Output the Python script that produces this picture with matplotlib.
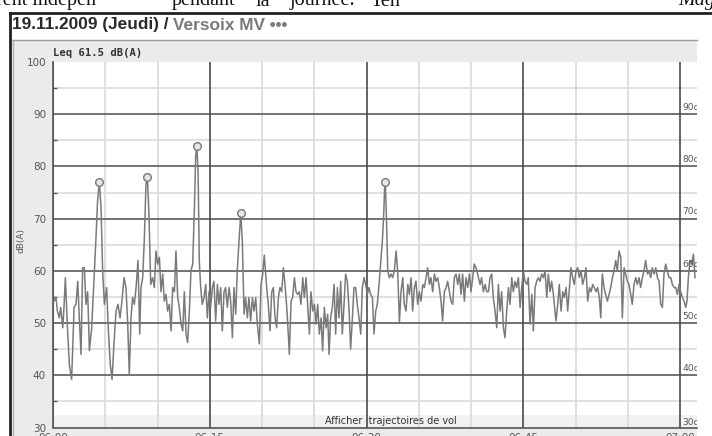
import matplotlib
matplotlib.use("Agg")
import matplotlib.pyplot as plt
from matplotlib.lines import Line2D
from matplotlib.patches import Rectangle

# ---------------- data ----------------
title_date = "19.11.2009 (Jeudi) / "
title_site = "Versoix MV \u2022\u2022\u2022"
leq_text = "Leq 61.5 dB(A)"
y_label = "dB(A)"
x_tick_seconds = [0, 900, 1800, 2700, 3600]
x_tick_labels = ["06:00", "06:15", "06:30", "06:45", "07:00"]
y_ticks = [30, 40, 50, 60, 70, 80, 90, 100]
right_labels = [30, 40, 50, 60, 70, 80, 90]
footer_text = "Afficher  trajectoires de vol"

# seconds after 06:00
t_part1 = [6, 17, 25, 36, 44, 56, 63, 71, 82, 94, 107, 121, 132, 142, 151, 161, 170, 180, 189, 199,
           209, 222, 232, 245, 256, 266, 276, 285, 295, 308, 318, 329, 339, 350, 362, 373, 385, 394, 408, 419,
           429, 438, 448, 457, 467, 477, 488, 498, 505, 515, 524, 534, 542, 551, 561, 572, 582, 591, 601, 611,
           620, 630, 639, 649, 658, 668, 678, 687, 697, 706, 716, 725, 735, 745, 754, 764, 773, 783, 792, 802,
           812, 819, 825, 833, 840, 848, 857, 867, 877, 886, 896, 905, 915, 924, 934, 944, 953, 963, 972, 982,
           991, 1001, 1011, 1020, 1030, 1039, 1049, 1058, 1068, 1078, 1087, 1097, 1106, 1116, 1125, 1135, 1145,
           1154, 1164, 1173, 1185, 1194, 1204, 1213]
db_part1 = [54.2, 54.9, 52.3, 51.0, 53.0, 49.1, 53.0, 58.7, 49.8, 42.0, 39.2, 53.0, 53.6, 58.0, 51.0, 44.0,
            60.6, 60.6, 53.6, 56.0, 44.7, 49.0, 56.0, 65.0, 73.4, 77.0, 72.0, 60.0, 53.6, 56.8, 48.5, 42.0,
            39.2, 46.0, 52.3, 53.6, 51.0, 53.6, 58.7, 56.8, 49.8, 40.2, 51.0, 54.9, 53.6, 56.8, 62.0, 47.9,
            56.8, 58.7, 65.7, 76.6, 78.0, 70.9, 57.4, 58.7, 56.8, 63.8, 61.3, 62.6, 56.0, 59.4, 54.2, 55.5,
            52.3, 53.6, 48.5, 56.8, 56.0, 63.8, 54.9, 53.0, 49.8, 48.5, 56.0, 47.9, 46.3, 52.3, 60.0, 61.3,
            72.1, 81.7, 84.0, 79.2, 61.9, 56.8, 53.6, 54.9, 57.4, 51.0, 56.0, 53.0, 56.8, 58.0, 50.4, 57.4,
            53.6, 56.8, 48.5, 56.0, 56.8, 53.0, 56.8, 54.2, 47.2, 56.8, 51.7, 60.0, 65.7, 71.0, 65.7, 51.7,
            54.9, 51.0, 54.9, 50.4, 54.9, 52.3, 54.9, 49.8, 46.0, 57.4, 59.4, 63.0]

t_part2 = [1227, 1236, 1246, 1256, 1265, 1275, 1284, 1294, 1303, 1313, 1323, 1332, 1342, 1351, 1357, 1367,
           1376, 1386, 1395, 1405, 1414, 1424, 1434, 1443, 1453, 1462, 1472, 1481, 1491, 1501, 1510, 1520,
           1529, 1539, 1548, 1558, 1568, 1577, 1585, 1594, 1604, 1614, 1623, 1633, 1642, 1652, 1661, 1671,
           1680, 1690, 1700, 1709, 1719, 1728, 1738, 1747, 1757, 1767, 1776, 1786, 1795, 1805, 1814, 1824,
           1834, 1843, 1853, 1862, 1872, 1881, 1891, 1899, 1904, 1908, 1914, 1922, 1931, 1941, 1950, 1960,
           1970, 1979, 1989, 1998, 2008, 2017, 2027, 2037, 2046, 2056, 2065, 2075, 2084, 2094, 2103, 2113,
           2123, 2132, 2142, 2151, 2161, 2170, 2180, 2190, 2199, 2209, 2218, 2228, 2237, 2247, 2257, 2266,
           2276, 2285, 2295, 2304, 2314, 2324, 2333, 2343, 2352, 2362, 2371, 2381, 2391, 2400, 2410, 2419,
           2429, 2438]
db_part2 = [56.8, 53.6, 48.5, 56.0, 56.8, 51.0, 49.1, 54.9, 56.8, 56.0, 60.6, 57.4, 53.0, 47.9, 44.0, 54.2,
            54.9, 58.7, 56.0, 55.5, 56.0, 53.6, 58.7, 54.9, 58.7, 53.6, 47.9, 56.0, 52.3, 53.6, 49.8, 53.6,
            47.9, 51.0, 44.7, 53.0, 49.1, 51.7, 44.0, 51.0, 53.0, 57.4, 47.9, 56.8, 51.0, 58.0, 47.9, 53.6,
            59.4, 58.0, 52.3, 45.0, 51.0, 56.8, 56.8, 53.6, 51.0, 47.9, 56.8, 58.7, 57.4, 55.5, 56.8, 55.5,
            54.9, 47.9, 52.3, 53.6, 57.4, 61.3, 65.7, 70.9, 76.0, 77.0, 70.9, 60.0, 58.7, 59.4, 58.7, 60.0,
            63.8, 60.0, 50.1, 56.0, 58.7, 53.6, 52.3, 57.4, 55.5, 58.7, 52.3, 56.8, 58.0, 53.6, 56.0, 54.2,
            57.4, 56.8, 58.7, 60.6, 57.4, 58.7, 56.0, 59.4, 58.0, 58.7, 56.8, 54.2, 50.4, 56.0, 56.8, 58.0,
            56.0, 54.2, 53.6, 58.7, 59.4, 57.4, 59.4, 55.5, 59.4, 54.2, 58.7, 56.8, 59.4, 56.0, 58.7, 61.3,
            60.6, 59.4]

t_part3 = [2452, 2461, 2471, 2481, 2490, 2500, 2509, 2519, 2528, 2538, 2548, 2557, 2567, 2576, 2586, 2595,
           2605, 2615, 2624, 2634, 2643, 2653, 2662, 2672, 2682, 2691, 2701, 2710, 2720, 2729, 2739, 2749,
           2758, 2768, 2777, 2787, 2796, 2806, 2816, 2825, 2835, 2844, 2854, 2863, 2873, 2882, 2888, 2898,
           2907, 2917, 2927, 2936, 2946, 2955, 2965, 2974, 2984, 2993, 3003, 3013, 3022, 3032, 3041, 3051,
           3060, 3070, 3080, 3089, 3099, 3108, 3118, 3127, 3137, 3145, 3154, 3164, 3173, 3183, 3193, 3202,
           3212, 3221, 3231, 3240, 3250, 3260, 3269, 3279, 3288, 3298, 3307, 3317, 3326, 3336, 3346, 3355,
           3365, 3374, 3384, 3393, 3403, 3413, 3422, 3432, 3441, 3451, 3461, 3470, 3480, 3489, 3499, 3508,
           3518, 3527, 3537, 3547, 3556, 3566, 3575, 3585, 3594, 3604, 3614, 3623, 3633, 3640, 3648, 3658,
           3667, 3677, 3686]
db_part3 = [57.4, 58.7, 56.0, 57.4, 56.0, 56.0, 58.7, 59.4, 54.9, 52.3, 49.1, 57.4, 52.3, 56.0, 49.1, 47.2,
            52.3, 56.8, 53.6, 58.7, 56.0, 58.0, 56.8, 58.7, 53.0, 56.8, 60.0, 58.0, 57.4, 58.7, 49.8, 55.5,
            48.5, 56.8, 58.0, 58.7, 58.0, 59.4, 58.7, 60.0, 54.9, 59.4, 56.0, 58.0, 55.5, 52.3, 50.4, 53.6,
            57.4, 52.3, 56.0, 54.9, 56.8, 52.3, 56.8, 60.6, 58.7, 57.4, 60.0, 60.6, 58.7, 60.0, 57.4, 58.7,
            60.6, 54.2, 56.8, 56.0, 57.4, 56.8, 56.0, 56.8, 54.9, 51.0, 59.4, 56.8, 55.5, 54.2, 55.5, 56.8,
            58.7, 60.0, 62.0, 60.0, 63.8, 62.6, 51.0, 60.6, 59.4, 58.0, 57.4, 55.5, 53.6, 57.4, 58.7, 57.4,
            58.7, 56.8, 58.7, 60.0, 62.0, 59.4, 60.0, 58.7, 60.6, 59.4, 60.6, 58.7, 58.0, 53.6, 53.0, 59.4,
            61.3, 60.0, 58.7, 58.7, 57.4, 56.8, 56.8, 55.5, 57.4, 56.0, 54.9, 54.2, 53.0, 54.2, 58.7, 62.0,
            61.3, 63.2, 58.7]

# flagged noise events (seconds, level)
event_t = [266, 542, 825, 1078, 1908]
event_db = [77.0, 78.0, 84.0, 71.0, 77.0]

times = t_part1 + t_part2 + t_part3
levels = db_part1 + db_part2 + db_part3

# ---------------- figure ----------------
W, H = 712, 436
fig = plt.figure(figsize=(W / 100, H / 100), dpi=100)
fig.patch.set_facecolor("white")


def fx(px):
    return px / W


def fy(py):
    return 1 - py / H


# page text (scan of document) at the very top
for word, xp in [("rent indépen", -4), ("pendant", 172), ("la", 256), ("journée.", 290), ("Ten", 371)]:
    fig.text(fx(xp), fy(5.5), word, family="Liberation Serif", fontsize=14.5, color="#111",
             ha="left", va="baseline")
fig.text(fx(678), fy(5.5), "Mag", family="Liberation Serif", style="italic", fontsize=14.5,
         color="#111", ha="left", va="baseline")

# frame border
fig.add_artist(Line2D([fx(9.5), fx(712)], [fy(13.5), fy(13.5)], color="#222", lw=2.0))
fig.add_artist(Line2D([fx(9.5), fx(9.5)], [fy(13.5), fy(436)], color="#222", lw=2.0))
# grey panel
fig.add_artist(Rectangle((fx(12), 0), fx(697) - fx(12), fy(40), transform=fig.transFigure,
                         facecolor="#ebebeb", edgecolor="none", zorder=0))
fig.add_artist(Line2D([fx(12), fx(697)], [fy(40), fy(40)], color="#9a9a9a", lw=1.0))
fig.add_artist(Line2D([fx(12.5), fx(12.5)], [fy(40), 0], color="#b5b5b5", lw=1.0))

# title
renderer = fig.canvas.get_renderer()
t1 = fig.text(fx(12), fy(25), title_date, family="Liberation Sans", weight="bold", fontsize=12.4,
              color="#2a2a2a", ha="left", va="center")
bb = t1.get_window_extent(renderer)
fig.text(bb.x1 / W, fy(25), title_site, family="Liberation Sans", weight="bold", fontsize=12.4,
         color="#7a7a7a", ha="left", va="center")

# Leq text
fig.text(fx(53), fy(52.5), leq_text, family="DejaVu Sans Mono", weight="bold", fontsize=7.6,
         color="#333", ha="left", va="center")

# y label
fig.text(fx(21), fy(240), y_label, family="DejaVu Sans", fontsize=6.5, color="#555",
         rotation=90, ha="center", va="center")

# ---------------- axes ----------------
left, right, top, bottom = 53, 697, 62, 427.5
ax = fig.add_axes([fx(left), fy(bottom), fx(right) - fx(left), fy(top) - fy(bottom)])
ax.set_facecolor("white")
xmax = (right - left) / 10.45 * 60
ax.set_xlim(0, xmax)
ax.set_ylim(30, 100)

ax.axhspan(30, 32.3, color="#f1f1f1", zorder=0.5, lw=0)

for v in range(35, 100, 10):
    ax.axhline(v, color="#dcdcdc", lw=1.2, zorder=1)
for v in range(300, int(xmax), 300):
    if v % 900:
        ax.axvline(v, color="#dcdcdc", lw=1.3, zorder=1)
for v in range(40, 100, 10):
    ax.axhline(v, color="#5a5a5a", lw=1.2, zorder=2)
for v in x_tick_seconds:
    ax.axvline(v, color="#4a4a4a", lw=1.2, zorder=2)

ax.plot(times, levels, color="#7a7a7a", lw=1.1, zorder=3)
ax.plot(event_t, event_db, ls="none", marker="o", ms=5.5, mfc="#e6e6e6", mec="#777777",
        mew=1.0, zorder=4)

for v in right_labels:
    yy = v + 1.3 if v > 30 else 31.0
    ax.text(3612, yy, str(v) + "dB", fontsize=6.6, color="#555", ha="left", va="center",
            family="DejaVu Sans", clip_on=True, zorder=5)

ax.text(1941, 31.2, footer_text, fontsize=7.0, color="#333", ha="center", va="center",
        family="DejaVu Sans", zorder=5)

for s in ["top", "right"]:
    ax.spines[s].set_visible(False)
ax.spines["left"].set_color("#555")
ax.spines["bottom"].set_color("#555")
ax.spines["left"].set_linewidth(1.2)
ax.spines["bottom"].set_linewidth(1.2)

ax.set_yticks(y_ticks)
ax.set_yticklabels([str(v) for v in y_ticks])
ax.set_yticks(list(range(35, 100, 10)), minor=True)
ax.tick_params(axis="y", which="major", length=0, pad=5, labelsize=7.5, labelcolor="#555")
ax.tick_params(axis="y", which="minor", direction="in", length=3, color="#555", width=1)
ax.set_xticks(x_tick_seconds)
ax.set_xticklabels(x_tick_labels)
ax.tick_params(axis="x", which="major", length=0, pad=4, labelsize=7.5, labelcolor="#555")
for lab in ax.get_yticklabels() + ax.get_xticklabels():
    lab.set_family("DejaVu Sans")

fig.savefig("out.png", dpi=100, facecolor="white")
